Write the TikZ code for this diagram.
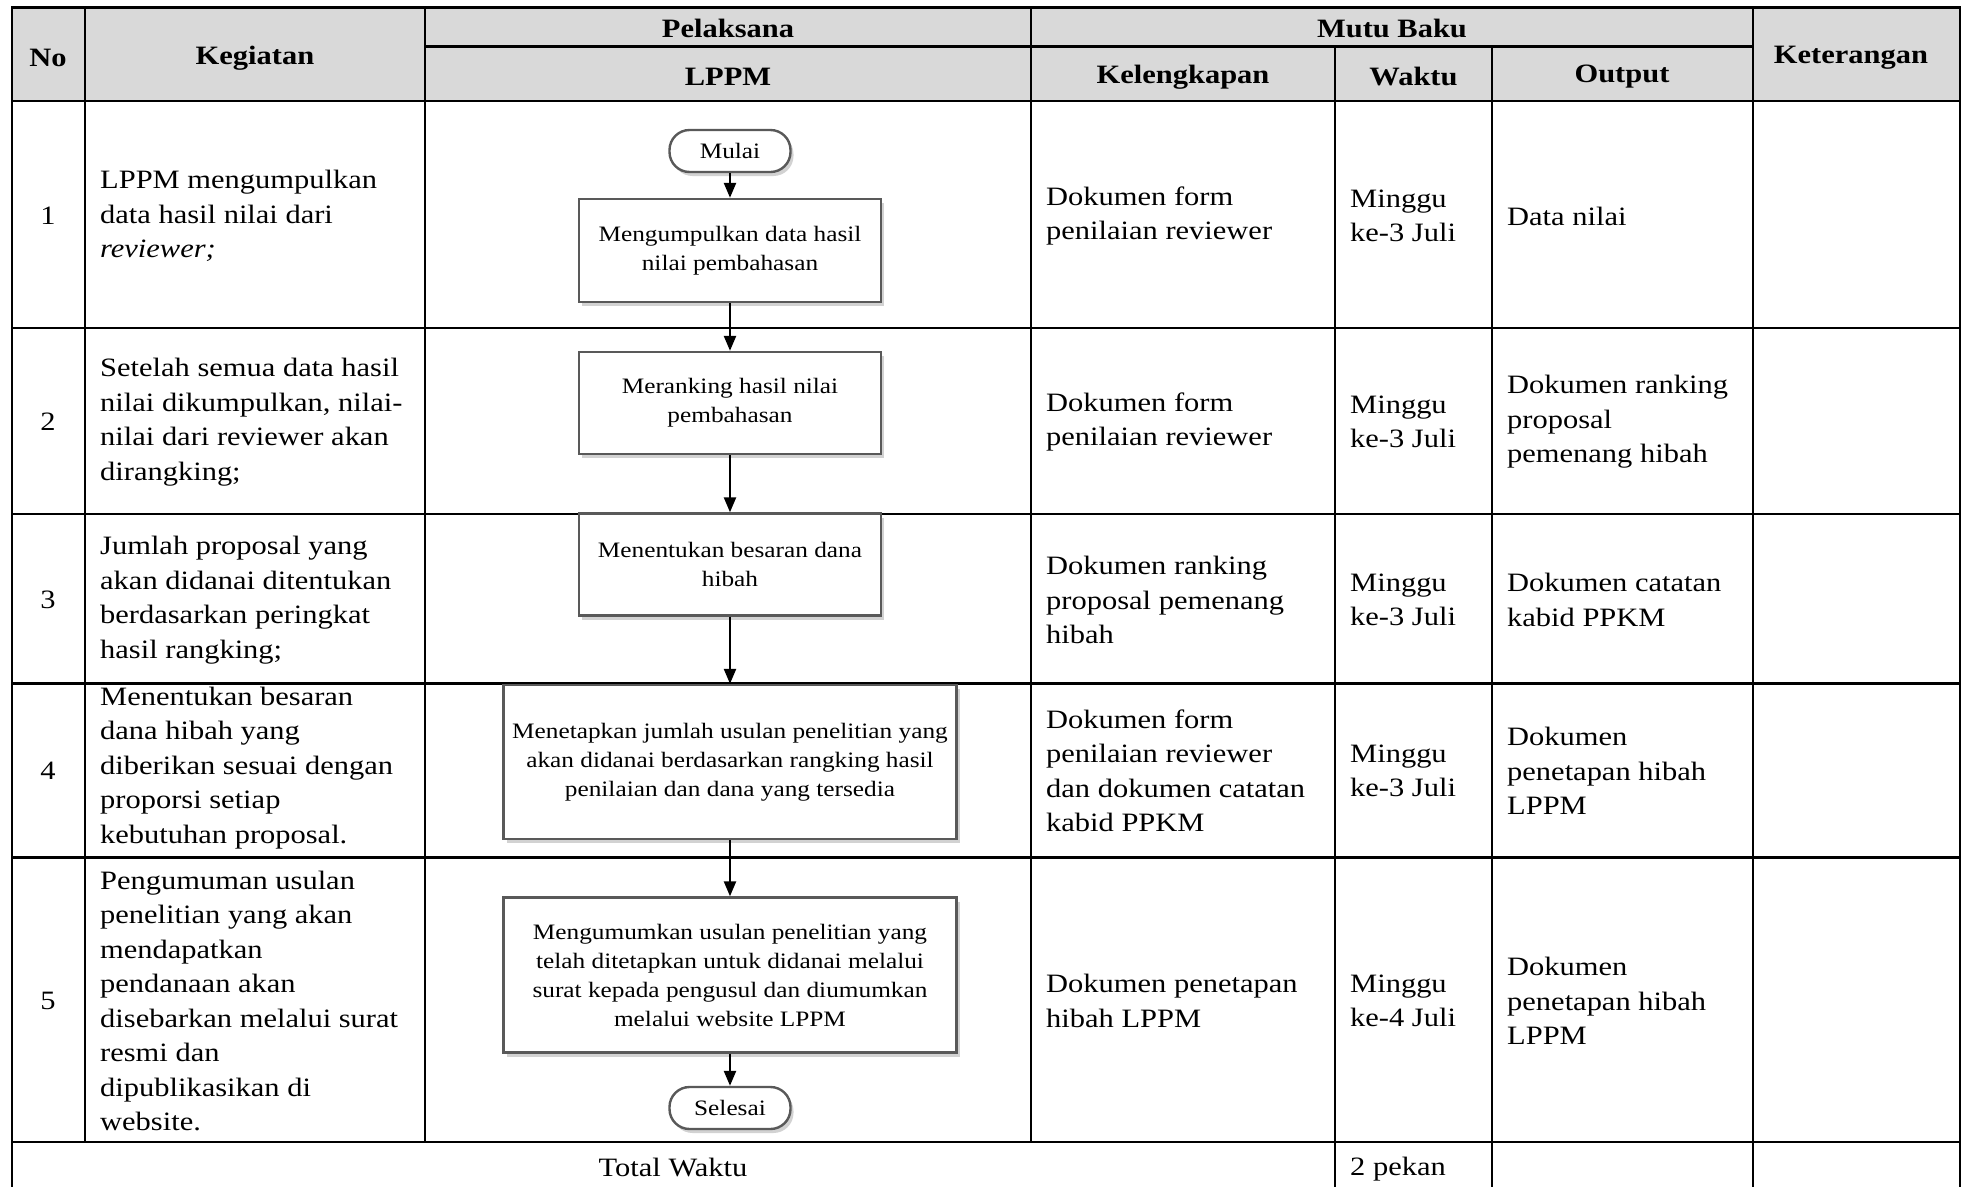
\documentclass[tikz,border=0pt]{standalone}
\usepackage{fontspec}
\setmainfont{Liberation Serif}[FakeStretch=1.15]
\usetikzlibrary{arrows.meta,shadows}
\definecolor{hdrgray}{HTML}{D9D9D9}
\definecolor{boxline}{HTML}{595959}
\begin{document}
\begin{tikzpicture}[x=1pt,y=-1pt,
  hline/.style={line width=2.6pt},
  vline/.style={line width=2pt},
  hdr/.style={font=\bfseries\fontsize{26.5}{30}\selectfont, inner sep=0pt},
  cell/.style={anchor=west, align=left, inner sep=0pt, font=\fontsize{26.5}{34.5}\selectfont},
  num/.style={inner sep=0pt, font=\fontsize{26.5}{30}\selectfont},
  proc/.style={draw=boxline, line width=2.4pt, fill=white, align=center, inner sep=2pt,
    font=\fontsize{22}{29}\selectfont,
    drop shadow={shadow xshift=3pt, shadow yshift=-4pt, fill=black!25, opacity=0.7}},
  term/.style={proc, rounded corners=20pt, minimum width=121pt, minimum height=42pt, inner sep=0pt},
  flow/.style={line width=2.4pt, -{Triangle[width=12pt,length=15pt]}},
]
\useasboundingbox (0,0) rectangle (1963,1187);
% header background
\fill[hdrgray] (11.5,7.3) rectangle (1960,101);
% horizontal lines
\draw[hline] (11.5,7.3) -- (1960,7.3);
\draw[hline] (425,46.7) -- (1753,46.7);
\draw[hline] (11.5,101) -- (1960,101);
\foreach \yy in {328,514,683.5,857.5,1142}
  \draw[hline] (11.5,\yy) -- (1960,\yy);
% vertical lines
\draw[vline] (11.5,6) -- (11.5,1187);
\draw[vline] (85,7.3) -- (85,1142);
\draw[vline] (425,7.3) -- (425,1142);
\draw[vline] (1031,7.3) -- (1031,1142);
\draw[vline] (1335,46.7) -- (1335,1187);
\draw[vline] (1492,46.7) -- (1492,1187);
\draw[vline] (1753,7.3) -- (1753,1187);
\draw[vline] (1960,6) -- (1960,1187);

% header texts
\node[hdr] (hNo) at (48,58) {No};
\node[hdr] (hKeg) at (255,58) {Kegiatan};
\node[hdr] (hPel) at (728,28) {Pelaksana};
\node[hdr] (hLPPM) at (728,77) {LPPM};
\node[hdr] (hMutu) at (1392,28) {Mutu Baku};
\node[hdr] (hKel) at (1183,77) {Kelengkapan};
\node[hdr] (hWak) at (1413.5,77) {Waktu};
\node[hdr] (hOut) at (1622,77) {Output};
\node[hdr] (hKet) at (1851,58) {Keterangan};

% row 1
\node[num] (n1) at (48,216) {1};
\node[cell] (k1) at (100,216) {LPPM mengumpulkan\\data hasil nilai dari\\\textit{reviewer;}};
\node[cell] (l1) at (1046,216) {Dokumen form\\penilaian reviewer};
\node[cell] (w1) at (1350,216) {Minggu\\ke-3 Juli};
\node[cell] (o1) at (1507,216) {Data nilai};
% row 2
\node[num] (n2) at (48,422) {2};
\node[cell] (k2) at (100,422) {Setelah semua data hasil\\nilai dikumpulkan, nilai-\\nilai dari reviewer akan\\dirangking;};
\node[cell] (l2) at (1046,422) {Dokumen form\\penilaian reviewer};
\node[cell] (w2) at (1350,422) {Minggu\\ke-3 Juli};
\node[cell] (o2) at (1507,422) {Dokumen ranking\\proposal\\pemenang hibah};
% row 3
\node[num] (n3) at (48,600) {3};
\node[cell] (k3) at (100,600) {Jumlah proposal yang\\akan didanai ditentukan\\berdasarkan peringkat\\hasil rangking;};
\node[cell] (l3) at (1046,600) {Dokumen ranking\\proposal pemenang\\hibah};
\node[cell] (w3) at (1350,600) {Minggu\\ke-3 Juli};
\node[cell] (o3) at (1507,600) {Dokumen catatan\\kabid PPKM};
% row 4
\node[num] (n4) at (48,771) {4};
\node[cell] (k4) at (100,768) {Menentukan besaran\\dana hibah yang\\diberikan sesuai dengan\\proporsi setiap\\kebutuhan proposal.};
\node[cell] (l4) at (1046,771) {Dokumen form\\penilaian reviewer\\dan dokumen catatan\\kabid PPKM};
\node[cell] (w4) at (1350,771) {Minggu\\ke-3 Juli};
\node[cell] (o4) at (1507,771) {Dokumen\\penetapan hibah\\LPPM};
% row 5
\node[num] (n5) at (48,1001) {5};
\node[cell] (k5) at (100,1001) {Pengumuman usulan\\penelitian yang akan\\mendapatkan\\pendanaan akan\\disebarkan melalui surat\\resmi dan\\dipublikasikan di\\website.};
\node[cell] (l5) at (1046,1001) {Dokumen penetapan\\hibah LPPM};
\node[cell] (w5) at (1350,1001) {Minggu\\ke-4 Juli};
\node[cell] (o5) at (1507,1001) {Dokumen\\penetapan hibah\\LPPM};
% total row
\node[num] (tot) at (673,1167) {Total Waktu};
\node[cell] (tw) at (1350,1169) {2 pekan};

% flowchart
\node[term] (mulai) at (730,151) {Mulai};
\node[proc, minimum width=302pt, minimum height=103pt] (b1) at (730,250.5) {Mengumpulkan data hasil\\nilai pembahasan};
\node[proc, minimum width=302pt, minimum height=102pt] (b2) at (730,403) {Meranking hasil nilai\\pembahasan};
\node[proc, minimum width=302pt, minimum height=102pt] (b3) at (730,564.5) {Menentukan besaran dana\\hibah};
\node[proc, minimum width=453pt, minimum height=154pt] (b4) at (730,762) {Menetapkan jumlah usulan penelitian yang\\akan didanai berdasarkan rangking hasil\\penilaian dan dana yang tersedia};
\node[proc, minimum width=453pt, minimum height=155pt] (b5) at (730,975) {Mengumumkan usulan penelitian yang\\telah ditetapkan untuk didanai melalui\\surat kepada pengusul dan diumumkan\\melalui website LPPM};
\node[term] (selesai) at (730,1108) {Selesai};

\draw[flow] (mulai) -- (b1);
\draw[flow] (b1) -- (b2);
\draw[flow] (b2) -- (b3);
\draw[flow] (b3) -- (b4);
\draw[flow] (b4) -- (b5);
\draw[flow] (b5) -- (selesai);
\end{tikzpicture}
\end{document}
